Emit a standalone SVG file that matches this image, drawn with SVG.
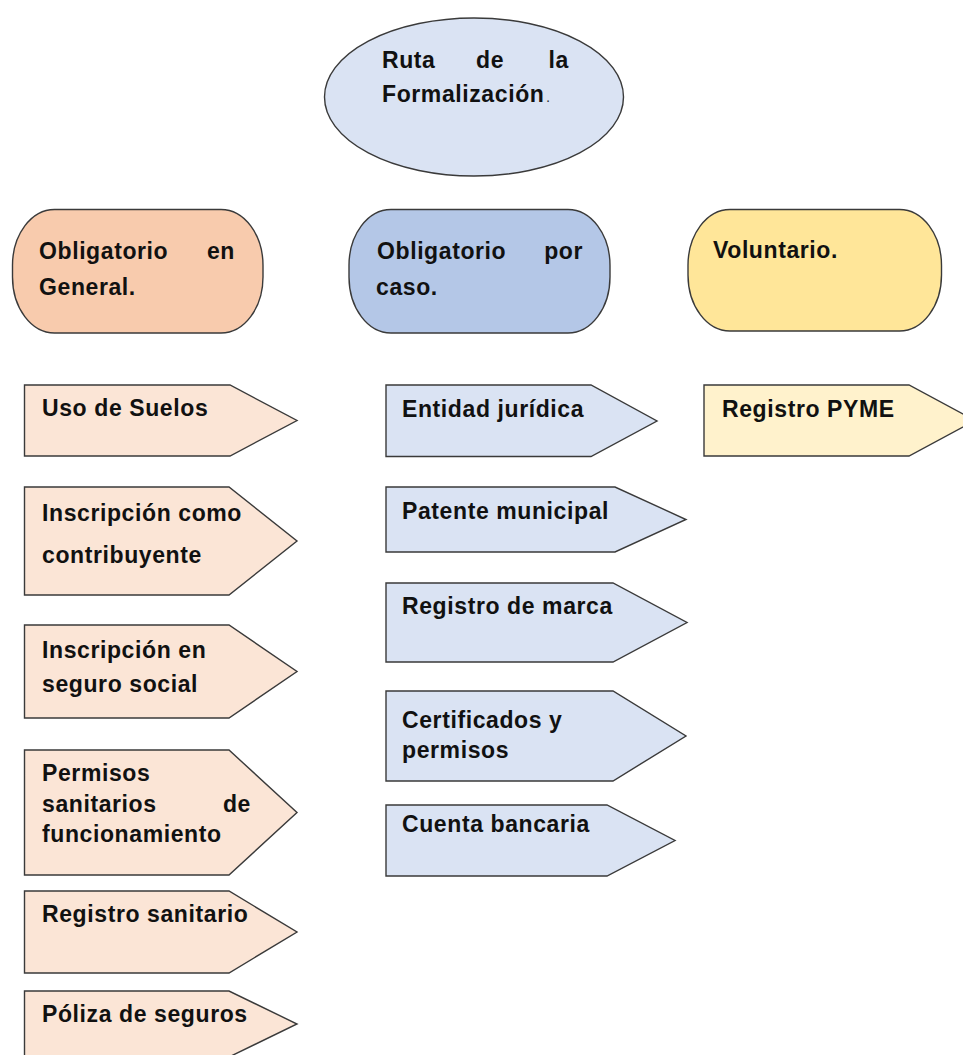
<svg xmlns="http://www.w3.org/2000/svg" width="963" height="1055" viewBox="0 0 963 1055">
  <style>
    .shape { stroke: #3a3a3a; stroke-width: 1.4; stroke-linejoin: miter; }
    .root { fill: #dae3f3; }
    .hd-gen { fill: #f8cbad; }
    .hd-caso { fill: #b4c7e7; }
    .hd-vol { fill: #ffe699; }
    .it-gen { fill: #fbe5d6; }
    .it-caso { fill: #dae3f3; }
    .it-vol { fill: #fff2cc; }
    .t { font-family: "Liberation Sans", Arial, sans-serif; font-weight: bold; font-size: 23px; letter-spacing: 0.6px; fill: #111111; }
    .end { text-anchor: end; }
    .dot { font-family: "Liberation Sans", Arial, sans-serif; font-size: 15px; fill: #333333; }
  </style>

  <rect width="963" height="1055" fill="#ffffff"/>

  <!-- root ellipse -->
  <g id="ruta">
    <ellipse class="shape root" cx="474" cy="97" rx="149.5" ry="79"/>
    <text class="t" x="382" y="68">Ruta</text>
    <text class="t" x="476" y="68">de</text>
    <text class="t end" x="569" y="68">la</text>
    <text class="t" x="382" y="102">Formalización</text>
    <text class="dot" x="546" y="102">.</text>
  </g>

  <!-- category headers -->
  <g id="obligatorio-general">
    <rect class="shape hd-gen" x="12.5" y="209.5" width="250.5" height="123.5" rx="42" ry="56"/>
    <text class="t" x="39" y="259">Obligatorio</text>
    <text class="t end" x="235" y="259">en</text>
    <text class="t" x="39" y="295">General.</text>
  </g>

  <g id="obligatorio-caso">
    <rect class="shape hd-caso" x="349" y="209.5" width="261" height="123.5" rx="42" ry="56"/>
    <text class="t" x="377" y="259">Obligatorio</text>
    <text class="t end" x="583" y="259">por</text>
    <text class="t" x="376" y="295">caso.</text>
  </g>

  <g id="voluntario">
    <rect class="shape hd-vol" x="688" y="209.5" width="253.5" height="121.5" rx="42" ry="56"/>
    <text class="t" x="713" y="258">Voluntario.</text>
  </g>

  <!-- items: obligatorio en general -->
  <g id="uso-suelos">
    <polygon class="shape it-gen" points="24.5,385 230,385 297,420.5 230,456 24.5,456"/>
    <text class="t" x="42" y="416">Uso de Suelos</text>
  </g>
  <g id="inscripcion-contribuyente">
    <polygon class="shape it-gen" points="24.5,487 229,487 297,541 229,595 24.5,595"/>
    <text class="t" x="42" y="521">Inscripción como</text>
    <text class="t" x="42" y="563">contribuyente</text>
  </g>
  <g id="inscripcion-seguro">
    <polygon class="shape it-gen" points="24.5,625 229,625 297,671.5 229,718 24.5,718"/>
    <text class="t" x="42" y="658">Inscripción en</text>
    <text class="t" x="42" y="692">seguro social</text>
  </g>
  <g id="permisos-sanitarios">
    <polygon class="shape it-gen" points="24.5,750 229,750 297,812.5 229,875 24.5,875"/>
    <text class="t" x="42" y="781">Permisos</text>
    <text class="t" x="42" y="812">sanitarios</text>
    <text class="t end" x="251" y="812">de</text>
    <text class="t" x="42" y="842">funcionamiento</text>
  </g>
  <g id="registro-sanitario">
    <polygon class="shape it-gen" points="24.5,891 229,891 297,932 229,973 24.5,973"/>
    <text class="t" x="42" y="922">Registro sanitario</text>
  </g>
  <g id="poliza-seguros">
    <polygon class="shape it-gen" points="24.5,991 229,991 297,1024 229,1057 24.5,1057"/>
    <text class="t" x="42" y="1022">Póliza de seguros</text>
  </g>

  <!-- items: obligatorio por caso -->
  <g id="entidad-juridica">
    <polygon class="shape it-caso" points="386,385 591,385 657,421 591,456.5 386,456.5"/>
    <text class="t" x="402" y="417">Entidad jurídica</text>
  </g>
  <g id="patente-municipal">
    <polygon class="shape it-caso" points="386,487 615,487 686,519.5 615,552 386,552"/>
    <text class="t" x="402" y="519">Patente municipal</text>
  </g>
  <g id="registro-marca">
    <polygon class="shape it-caso" points="386,583 613,583 687,622.5 613,662 386,662"/>
    <text class="t" x="402" y="614">Registro de marca</text>
  </g>
  <g id="certificados-permisos">
    <polygon class="shape it-caso" points="386,691 613,691 686,736 613,781 386,781"/>
    <text class="t" x="402" y="728">Certificados y</text>
    <text class="t" x="402" y="758">permisos</text>
  </g>
  <g id="cuenta-bancaria">
    <polygon class="shape it-caso" points="386,805 607,805 675,840.5 607,876 386,876"/>
    <text class="t" x="402" y="832">Cuenta bancaria</text>
  </g>

  <!-- items: voluntario -->
  <g id="registro-pyme">
    <polygon class="shape it-vol" points="704,385 909,385 975,420.5 909,456 704,456"/>
    <text class="t" x="722" y="417">Registro PYME</text>
  </g>

  <g id="connectors"/>
</svg>
